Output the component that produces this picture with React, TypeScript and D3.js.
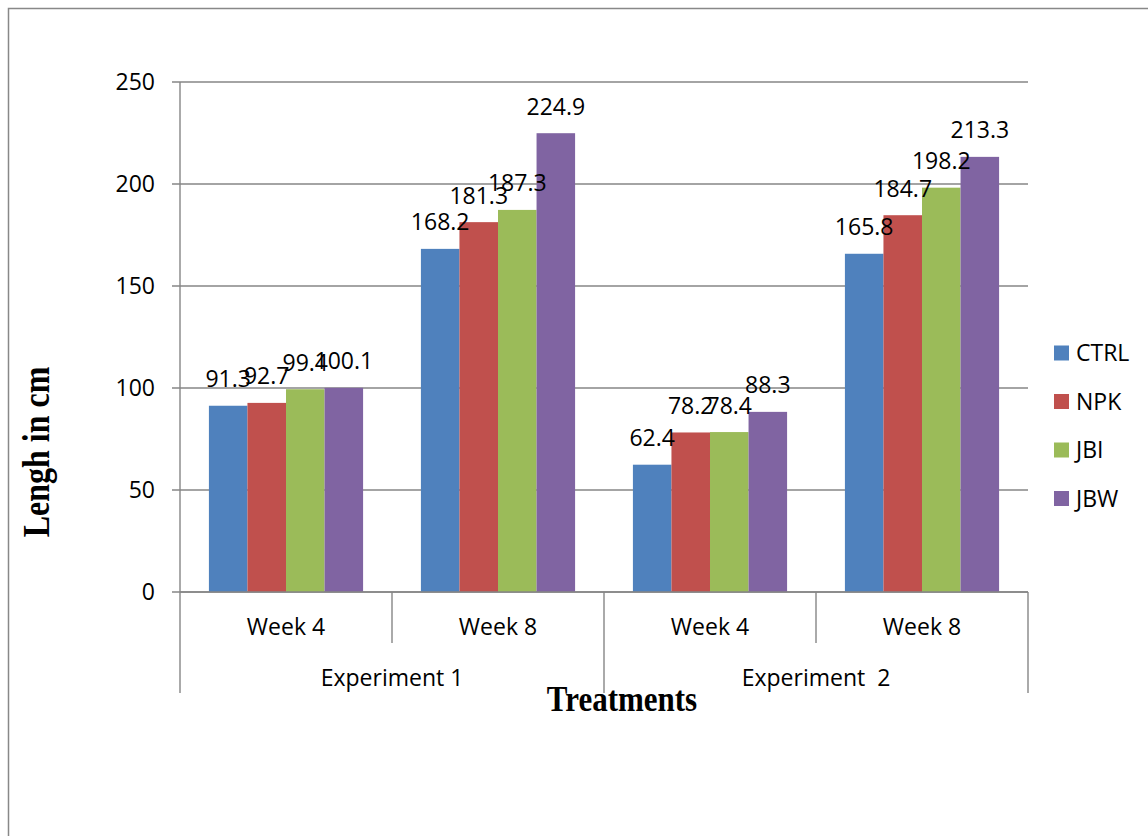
import React from "react";
import * as d3 from "d3";

// Plant length per treatment, grouped by experiment and week
const experiments = ["Experiment 1", "Experiment  2"];
const weeks = ["Week 4", "Week 8"];
const seriesNames = ["CTRL", "NPK", "JBI", "JBW"];
const seriesColors = ["#4F81BD", "#C0504D", "#9BBB59", "#8064A2"];

const ctrlValues = [91.3, 168.2, 62.4, 165.8];
const npkValues = [92.7, 181.3, 78.2, 184.7];
const jbiValues = [99.4, 187.3, 78.4, 198.2];
const jbwValues = [100.1, 224.9, 88.3, 213.3];

const yTicks = [0, 50, 100, 150, 200, 250];

const W = 1148;
const H = 836;
const left = 180;
const right = 1028;
const top = 82;
const bottom = 592;

const FONT = "'Open Sans', sans-serif";
const SERIF = "'Liberation Serif', 'Times New Roman', serif";
const GRID = "#868686";

export default function App() {
  const seriesValues = [ctrlValues, npkValues, jbiValues, jbwValues];
  const groups = experiments.flatMap((e) => weeks.map((w) => ({ exp: e, week: w })));
  const groupKeys = groups.map((_, i) => String(i));

  const y = d3.scaleLinear().domain([0, 250]).range([bottom, top]);
  const x0 = d3.scaleBand<string>().domain(groupKeys).range([left, right]);
  const gw = x0.bandwidth();
  const x1 = d3
    .scaleBand<string>()
    .domain(seriesNames)
    .range([0, gw])
    .paddingInner(0)
    .paddingOuter(0.75);

  const expWidth = (right - left) / experiments.length;

  return (
    <svg
      width={W}
      height={H}
      style={{ position: "absolute", left: 0, top: 0, background: "#fff" }}
    >
      <rect x={8.5} y={8.5} width={W + 20} height={H + 20} fill="#fff" stroke="#888" strokeWidth={1.5} />

      {/* gridlines and y ticks */}
      {yTicks.map((t) => (
        <g key={t}>
          <line x1={left - 8} x2={right} y1={y(t)} y2={y(t)} stroke={GRID} strokeWidth={1.4} />
          <text
            x={155}
            y={y(t) + 8}
            textAnchor="end"
            fontFamily={FONT}
            fontSize={23}
            fill="#000"
          >
            {t}
          </text>
        </g>
      ))}

      {/* bars */}
      {groups.map((g, gi) =>
        seriesNames.map((s, si) => {
          const v = seriesValues[si][gi];
          const bx = (x0(String(gi)) as number) + (x1(s) as number);
          return (
            <rect
              key={`${gi}-${si}`}
              x={bx}
              y={y(v)}
              width={x1.bandwidth()}
              height={y(0) - y(v)}
              fill={seriesColors[si]}
            />
          );
        })
      )}

      {/* value labels */}
      {groups.map((g, gi) =>
        seriesNames.map((s, si) => {
          const v = seriesValues[si][gi];
          const cx = (x0(String(gi)) as number) + (x1(s) as number) + x1.bandwidth() / 2;
          return (
            <text
              key={`l-${gi}-${si}`}
              x={cx}
              y={y(v) - 18.5}
              textAnchor="middle"
              fontFamily={FONT}
              fontSize={23}
              fill="#000"
            >
              {v.toFixed(1)}
            </text>
          );
        })
      )}

      {/* axes */}
      <line x1={left} x2={left} y1={top} y2={693} stroke={GRID} strokeWidth={1.4} />
      <line x1={left} x2={right} y1={bottom} y2={bottom} stroke={GRID} strokeWidth={1.4} />
      {groupKeys.map((k, i) => {
        const xe = (x0(k) as number) + gw;
        const long = (i + 1) % weeks.length === 0;
        return (
          <line
            key={`t-${k}`}
            x1={xe}
            x2={xe}
            y1={bottom}
            y2={long ? 693 : 643}
            stroke={GRID}
            strokeWidth={1.4}
          />
        );
      })}

      {/* category labels */}
      {groups.map((g, gi) => (
        <text
          key={`w-${gi}`}
          x={(x0(String(gi)) as number) + gw / 2}
          y={635}
          textAnchor="middle"
          fontFamily={FONT}
          fontSize={23}
          fill="#000"
        >
          {g.week}
        </text>
      ))}
      {experiments.map((e, i) => (
        <text
          key={e}
          x={left + expWidth * (i + 0.5)}
          y={686}
          textAnchor="middle"
          fontFamily={FONT}
          fontSize={23}
          fill="#000"
          style={{ whiteSpace: "pre" }}
        >
          {e}
        </text>
      ))}

      {/* axis titles */}
      <text
        transform="translate(622,711) scale(1,1.17)"
        textAnchor="middle"
        fontFamily={SERIF}
        fontWeight="bold"
        fontSize={31}
        fill="#000"
      >
        Treatments
      </text>
      <text
        transform="translate(49,452) rotate(-90) scale(1,1.2)"
        textAnchor="middle"
        fontFamily={SERIF}
        fontWeight="bold"
        fontSize={32}
        fill="#000"
      >
        Lengh in cm
      </text>

      {/* legend */}
      {seriesNames.map((s, i) => {
        const ly = 353 + i * 48.5;
        return (
          <g key={`lg-${s}`}>
            <rect x={1054} y={ly - 7.5} width={15} height={15} fill={seriesColors[i]} />
            <text x={1076} y={ly + 8} fontFamily={FONT} fontSize={23} fill="#000">
              {s}
            </text>
          </g>
        );
      })}
    </svg>
  );
}
